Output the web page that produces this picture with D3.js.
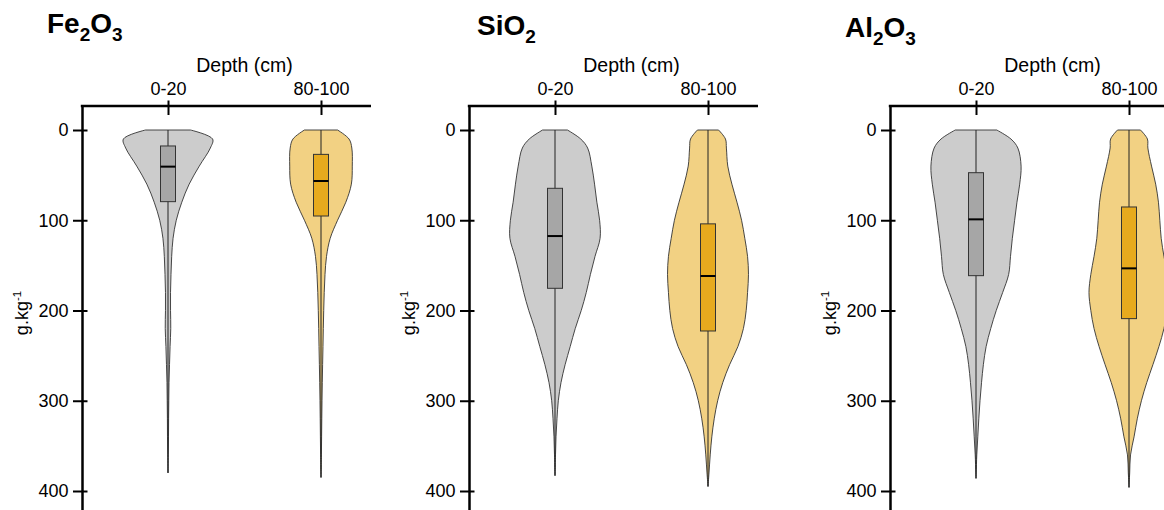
<!DOCTYPE html>
<html>
<head>
<meta charset="utf-8">
<script src="https://cdn.jsdelivr.net/npm/d3@7"></script>
<style>
  body { margin: 0; background: #fff; }
  text { font-family: "Liberation Sans", Arial, sans-serif; fill: #000; }
</style>
</head>
<body>
<div id="chart"></div>
<script>
// oxide names, digits are written as subscripts
var titleParts = [["Fe", "2", "O", "3"], ["Si", "O", "2"], ["Al", "2", "O", "3"]];
var depths = ["0-20", "80-100"];
var yTicks = [0, 100, 200, 300, 400];

// levels (g.kg-1) at which the density was read
var levels = [0, 10, 20, 40, 60, 80, 100, 120, 140, 160, 180, 200, 220, 240, 260, 280, 300, 320, 340, 360, 380];

// relative density per level, one array per depth
var feDensity020   = [0.49, 0.97, 0.92, 0.68, 0.46, 0.30, 0.18, 0.11, 0.08, 0.065, 0.055, 0.055, 0.06, 0.045, 0.033, 0.022, 0.017, 0.013, 0.011, 0.007, 0];
var feDensity80100 = [0.36, 0.61, 0.67, 0.68, 0.66, 0.54, 0.36, 0.20, 0.12, 0.087, 0.07, 0.059, 0.05, 0.043, 0.035, 0.028, 0.022, 0.017, 0.013, 0.009, 0.004];
var siDensity020   = [0.27, 0.56, 0.71, 0.80, 0.86, 0.91, 0.97, 0.98, 0.87, 0.77, 0.68, 0.57, 0.44, 0.33, 0.22, 0.13, 0.072, 0.043, 0.022, 0.011, 0.004];
var siDensity80100 = [0.23, 0.38, 0.40, 0.43, 0.52, 0.63, 0.73, 0.80, 0.86, 0.88, 0.86, 0.83, 0.77, 0.65, 0.47, 0.32, 0.21, 0.135, 0.083, 0.048, 0.022];
var alDensity020   = [0.45, 0.76, 0.91, 0.98, 0.95, 0.89, 0.84, 0.79, 0.75, 0.71, 0.58, 0.44, 0.32, 0.22, 0.16, 0.12, 0.087, 0.061, 0.039, 0.017, 0.005];
var alDensity80100 = [0.25, 0.40, 0.41, 0.49, 0.58, 0.64, 0.67, 0.70, 0.76, 0.83, 0.87, 0.83, 0.76, 0.65, 0.52, 0.385, 0.27, 0.18, 0.11, 0.033, 0.015];

// min, q1, median, q3, max per depth
var feStats = [[0, 17.7, 40.6, 79.4, 380], [0, 27, 56.5, 95.3, 385]];
var siStats = [[0, 64.6, 117.5, 175.4, 383], [0, 104, 161.8, 222.7, 395]];
var alStats = [[0, 47.3, 99, 161.4, 386], [0, 85.3, 153.3, 209, 396]];

var densities = [[feDensity020, feDensity80100], [siDensity020, siDensity80100], [alDensity020, alDensity80100]];
var stats = [feStats, siStats, alStats];

var W = 1164, H = 510;
var panelX = [82, 469, 890];
var titleX = [47, 477, 845];
var titleY = [33, 35, 37];
var axisY = 106, axisLen = 289;

var violinFill = ["#cccccc", "#f2d183"];
var boxFill = ["#a6a6a6", "#e7aa1e"];

var svg = d3.select("#chart").append("svg")
    .attr("width", W)
    .attr("height", H);

var y = d3.scaleLinear().domain([0, 400]).range([130, 491]);
var x = d3.scalePoint().domain(depths).range([86, 239]);
var w = d3.scaleLinear().domain([0, 1]).range([0, 46]);
var boxHalf = 7.5;

panelX.forEach(function(px, i) {
    var g = svg.append("g").attr("transform", "translate(" + px + ",0)");

    // title with subscripts
    var t = g.append("text")
        .attr("x", titleX[i] - px)
        .attr("y", titleY[i])
        .style("font-size", "28px")
        .style("font-weight", "bold");
    var prevSub = false;
    titleParts[i].forEach(function(p) {
        var sub = /^\d+$/.test(p);
        var ts = t.append("tspan").text(p);
        if (sub) ts.attr("dy", 7.5).style("font-size", "19px");
        else ts.attr("dy", prevSub ? -7.5 : 0);
        prevSub = sub;
    });

    // violins
    depths.forEach(function(dep, j) {
        var cx = x(dep);
        var s = stats[i][j];
        var dens = densities[i][j];
        var pts = [];
        levels.forEach(function(l, k) {
            if (l < s[4]) pts.push([l, dens[k]]);
        });
        pts.push([s[4], 0]);

        var area = d3.area()
            .curve(d3.curveCatmullRom.alpha(0.5))
            .y(function(d) { return y(d[0]); })
            .x0(function(d) { return cx - w(d[1]); })
            .x1(function(d) { return cx + w(d[1]); });

        g.append("path")
            .datum(pts)
            .attr("d", area)
            .attr("fill", violinFill[j])
            .attr("stroke", "#333")
            .attr("stroke-width", 0.9);

        g.append("line")
            .attr("x1", cx).attr("x2", cx)
            .attr("y1", y(s[0])).attr("y2", y(s[4]))
            .attr("stroke", "#222")
            .attr("stroke-width", 1);

        g.append("rect")
            .attr("x", cx - boxHalf)
            .attr("width", boxHalf * 2)
            .attr("y", y(s[1]))
            .attr("height", y(s[3]) - y(s[1]))
            .attr("fill", boxFill[j])
            .attr("stroke", "#333")
            .attr("stroke-width", 1);

        g.append("line")
            .attr("x1", cx - boxHalf).attr("x2", cx + boxHalf)
            .attr("y1", y(s[2])).attr("y2", y(s[2]))
            .attr("stroke", "#000")
            .attr("stroke-width", 2);
    });

    // y axis, line runs from the top axis to the bottom of the page
    var yAx = y.copy().domain([y.invert(axisY), y.invert(H + 2)]).range([axisY, H + 2]);
    var ya = g.append("g")
        .call(d3.axisLeft(yAx).tickValues(yTicks).tickSize(9).tickSizeOuter(0).tickPadding(4.5));
    ya.select(".domain").attr("stroke-width", 2.5);
    ya.selectAll(".tick line").attr("x1", 5.5).attr("stroke-width", 2);
    ya.selectAll(".tick text").style("font-size", "18px").attr("font-family", null);

    // top axis
    g.append("line")
        .attr("x1", -1.2).attr("x2", axisLen)
        .attr("y1", axisY).attr("y2", axisY)
        .attr("stroke", "#000")
        .attr("stroke-width", 2.5);
    var xa = g.append("g")
        .attr("transform", "translate(0," + axisY + ")")
        .call(d3.axisTop(x).tickSize(5.5).tickPadding(5.5));
    xa.select(".domain").remove();
    xa.selectAll(".tick line").attr("y1", 9).attr("stroke-width", 2);
    xa.selectAll(".tick text").style("font-size", "18px").attr("font-family", null);

    g.append("text")
        .attr("x", (x(depths[0]) + x(depths[1])) / 2)
        .attr("y", 72)
        .attr("text-anchor", "middle")
        .style("font-size", "19.5px")
        .text("Depth (cm)");

    // y label
    var yl = g.append("text")
        .attr("transform", "translate(-54,313) rotate(-90)")
        .attr("text-anchor", "middle")
        .style("font-size", "18px")
        .text("g.kg");
    yl.append("tspan").attr("dy", -7).style("font-size", "11.5px").text("-1");
});
</script>
</body>
</html>
